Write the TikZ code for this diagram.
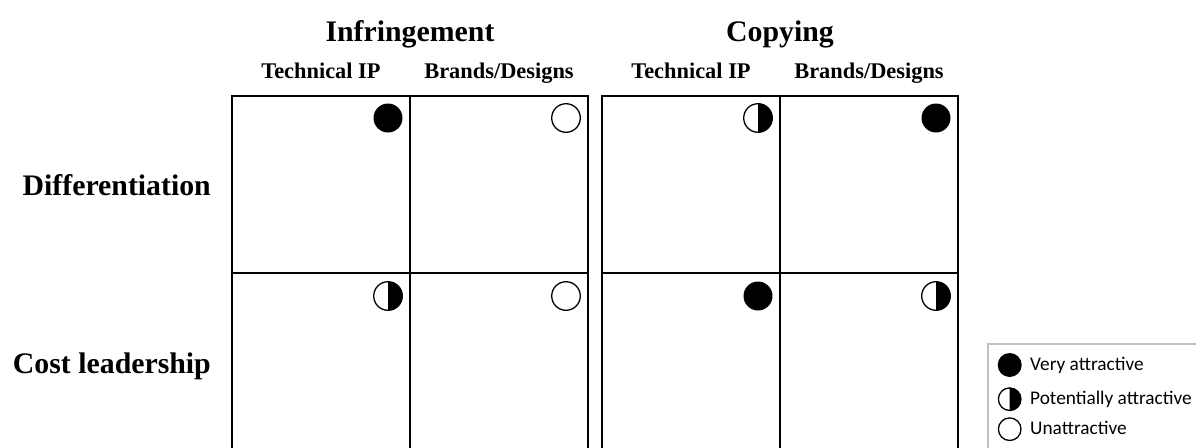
\documentclass[tikz,border=0pt]{standalone}
\usepackage{fontspec}
\setmainfont{Liberation Serif}
\newfontfamily\legendfont{Carlito}
\usetikzlibrary{calc}

\tikzset{
  cell/.style={draw, line width=2.8pt, minimum width=178pt, minimum height=177pt,
    inner sep=0pt, outer sep=0pt},
  title/.style={font=\fontsize{29.8}{32}\selectfont\bfseries, inner sep=0pt, anchor=base},
  subtitle/.style={font=\fontsize{22.4}{24}\selectfont\bfseries, inner sep=0pt, anchor=base},
  rowlabel/.style={font=\fontsize{29.8}{32}\selectfont\bfseries, inner sep=0pt, anchor=base east},
  legendtext/.style={font=\legendfont\fontsize{19.3}{21}\selectfont, inner sep=0pt, anchor=base west},
  fullmark/.pic={\fill (0,0) circle[radius=#1];},
  halfmark/.pic={
    \fill (0pt,#1) arc[start angle=90, end angle=-90, radius=#1] -- cycle;
    \draw[line width=1.3pt] (0,0) circle[radius=#1];},
  openmark/.pic={\draw[line width=1.3pt] (0,0) circle[radius=#1];},
}

\begin{document}
\begin{tikzpicture}[x=1pt, y=-1pt]
  \clip (0,0) rectangle (1196,447);
  \fill[white] (0,0) rectangle (1196,447);

  % column titles
  \node[title] (tinf) at (410,41.7) {Infringement};
  \node[title] (tcop) at (780,41.7) {Copying};
  \node[subtitle] (s1) at (321,78.3) {Technical IP};
  \node[subtitle] (s2) at (499,78.3) {Brands/Designs};
  \node[subtitle] (s3) at (691,78.3) {Technical IP};
  \node[subtitle] (s4) at (869,78.3) {Brands/Designs};

  % row titles
  \node[rowlabel] (rdiff) at (211,195) {Differentiation};
  \node[rowlabel] (rcost) at (211,373.3) {Cost leadership};

  % matrix cells
  \node[cell] (c11) at (321,184.5) {};
  \node[cell] (c12) at (499,184.5) {};
  \node[cell] (c13) at (691,184.5) {};
  \node[cell] (c14) at (869,184.5) {};
  \node[cell] (c21) at (321,361.5) {};
  \node[cell] (c22) at (499,361.5) {};
  \node[cell] (c23) at (691,361.5) {};
  \node[cell] (c24) at (869,361.5) {};

  % attractiveness markers in the top-right corner of each cell
  \pic at ($(c11.north east)+(-22,22)$) {fullmark=14.5pt};
  \pic at ($(c12.north east)+(-22,22)$) {openmark=14.3pt};
  \pic at ($(c13.north east)+(-22,22)$) {halfmark=14.3pt};
  \pic at ($(c14.north east)+(-22,22)$) {fullmark=14.5pt};
  \pic at ($(c21.north east)+(-22,23)$) {halfmark=14.3pt};
  \pic at ($(c22.north east)+(-22,23)$) {openmark=14.3pt};
  \pic at ($(c23.north east)+(-22,23)$) {fullmark=14.5pt};
  \pic at ($(c24.north east)+(-22,23)$) {halfmark=14.3pt};

  % legend
  \draw[line width=2pt, draw={rgb,255:red,192;green,192;blue,192}] (988,343.5) rectangle (1205,460);
  \pic at (1009.7,365) {fullmark=12pt};
  \pic at (1009.7,399.2) {halfmark=11.3pt};
  \pic at (1009.7,429.2) {openmark=11.3pt};
  \node[legendtext] (l1) at (1030,370) {Very attractive};
  \node[legendtext] (l2) at (1030,404.5) {Potentially attractive};
  \node[legendtext] (l3) at (1030,434) {Unattractive};
\end{tikzpicture}
\end{document}
